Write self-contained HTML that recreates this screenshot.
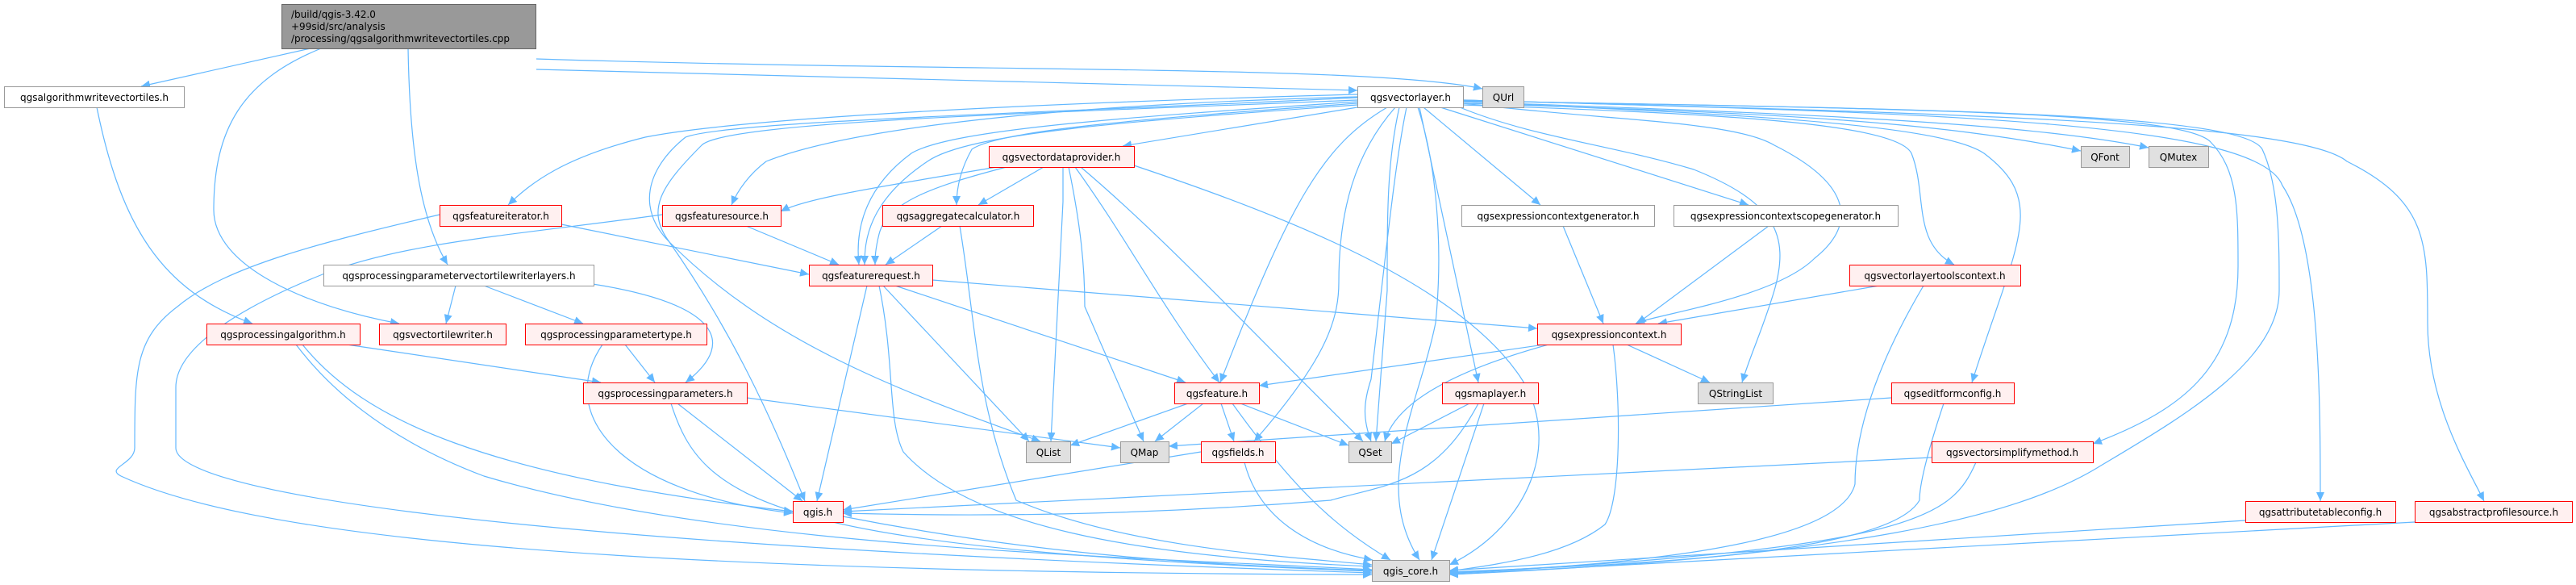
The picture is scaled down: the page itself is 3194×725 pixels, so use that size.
<!DOCTYPE html>
<html><head><meta charset="utf-8"><style>
html,body{margin:0;padding:0;background:#fff;width:3194px;height:725px;overflow:hidden}
svg{display:block}
text{font-family:"DejaVu Sans","Liberation Sans",sans-serif;font-size:12px;fill:#000}
.e{fill:none;stroke:#63b8ff;stroke-width:1.2;marker-end:url(#a)}
.w{fill:#fff;stroke:#999}
.r{fill:#fff0f0;stroke:#f00}
.g{fill:#e0e0e0;stroke:#999}
</style></head><body>
<svg width="3194" height="725" viewBox="0 0 3194 725" xmlns="http://www.w3.org/2000/svg">
<defs><marker id="a" markerUnits="userSpaceOnUse" markerWidth="12" markerHeight="10" refX="11" refY="5" orient="auto"><path d="M0,0 L11,5 L0,10 z" fill="#63b8ff"/></marker></defs>
<g>
<path class="e" d="M385,60 L175,107"/>
<path class="e" d="M398,60 C300,100 265,160 265,260 C265,330 380,380 495,401"/>
<path class="e" d="M506,60 C508,180 520,270 555,328"/>
<path class="e" d="M665,86 L1683,112"/>
<path class="e" d="M665,73 C1200,90 1700,80 1838,110"/>
<path class="e" d="M120,133 C150,280 200,360 313,401"/>
<path class="e" d="M565,354 L553,401"/>
<path class="e" d="M600,354 L723,401"/>
<path class="e" d="M735,352 C880,375 920,420 850,474"/>
<path class="e" d="M430,427 L745,474"/>
<path class="e" d="M375,427 C450,520 600,590 983,634"/>
<path class="e" d="M367,427 C430,510 520,560 600,590 C900,680 1400,690 1701,706"/>
<path class="e" d="M775,427 L812,474"/>
<path class="e" d="M747,427 C690,510 760,610 983,636"/>
<path class="e" d="M840,500 L995,621"/>
<path class="e" d="M832,500 C870,620 950,680 1701,708"/>
<path class="e" d="M926,493 L1389,555"/>
<path class="e" d="M696,278 L1003,340"/>
<path class="e" d="M545,266 C400,300 280,330 220,380 C167,420 167,460 167,555 C167,575 130,580 150,590 C300,660 700,710 1701,712"/>
<path class="e" d="M821,266 C650,290 500,300 400,340 C300,380 218,430 218,480 L218,555 C218,600 500,670 1701,710"/>
<path class="e" d="M925,280 L1040,328"/>
<path class="e" d="M1683,117 C1200,130 900,150 800,170 C700,195 660,225 630,254"/>
<path class="e" d="M1683,120 C1300,130 1050,160 950,200 C930,215 915,235 907,254"/>
<path class="e" d="M1683,124 C1300,140 900,150 870,180 C820,230 800,260 830,300 C900,400 950,500 998,621"/>
<path class="e" d="M1683,121 C1300,140 900,150 850,170 C800,210 790,260 830,300 C950,420 1100,480 1290,547"/>
<path class="e" d="M1683,133 L1392,181"/>
<path class="e" d="M1683,128 C1450,145 1240,160 1205,185 C1188,215 1186,240 1186,254"/>
<path class="e" d="M1683,126 C1400,145 1180,160 1130,190 C1062,240 1062,300 1065,328"/>
<path class="e" d="M1683,130 C1400,150 1200,165 1150,200 C1075,250 1072,300 1072,328"/>
<path class="e" d="M1720,133 C1640,180 1600,250 1513,474"/>
<path class="e" d="M1730,133 C1680,190 1660,260 1660,350 C1660,400 1640,450 1555,547"/>
<path class="e" d="M1735,133 C1720,200 1720,260 1720,360 L1706,547"/>
<path class="e" d="M1744,133 C1730,200 1720,300 1700,470 C1690,500 1690,520 1700,547"/>
<path class="e" d="M1760,133 L1833,474"/>
<path class="e" d="M1758,133 C1780,200 1790,300 1780,400 C1760,500 1700,600 1760,694"/>
<path class="e" d="M1765,133 L1910,254"/>
<path class="e" d="M1786,133 L2168,254"/>
<path class="e" d="M1810,133 C1900,170 2000,180 2100,210 C2200,250 2220,290 2200,360 C2185,410 2170,440 2160,474"/>
<path class="e" d="M1814,128 C2000,150 2150,150 2200,180 C2300,230 2300,280 2250,320 C2200,370 2050,390 2028,401"/>
<path class="e" d="M1814,130 C2100,140 2350,150 2370,190 C2390,240 2370,300 2423,328"/>
<path class="e" d="M1814,126 C2100,140 2400,150 2460,190 C2540,250 2500,300 2445,474"/>
<path class="e" d="M1814,128 C2200,140 2400,150 2580,187"/>
<path class="e" d="M1814,126 C2200,140 2500,150 2664,183"/>
<path class="e" d="M1814,125 C2400,135 2700,140 2740,175 C2775,210 2775,260 2775,330 C2775,460 2700,510 2595,550"/>
<path class="e" d="M1814,125 C2400,135 2780,140 2805,185 C2826,230 2826,300 2826,360 C2826,450 2700,520 2600,580 C2500,640 2300,690 1797,712"/>
<path class="e" d="M1814,124 C2400,140 2800,150 2830,230 C2877,300 2877,500 2877,621"/>
<path class="e" d="M1814,124 C2400,140 2850,150 2910,200 C3010,250 3010,300 3010,400 C3010,500 3060,580 3080,621"/>
<path class="e" d="M1236,207 C1100,230 1000,245 968,262"/>
<path class="e" d="M1294,207 L1213,254"/>
<path class="e" d="M1248,207 C1160,230 1100,250 1090,290 C1085,310 1085,320 1085,328"/>
<path class="e" d="M1318,207 L1318,250 L1303,547"/>
<path class="e" d="M1325,207 C1340,280 1345,330 1345,380 L1418,547"/>
<path class="e" d="M1333,207 C1400,300 1440,380 1512,474"/>
<path class="e" d="M1340,207 C1450,300 1560,420 1690,547"/>
<path class="e" d="M1406,205 C1600,270 1800,350 1880,460 C1940,540 1900,650 1797,700"/>
<path class="e" d="M1168,280 L1098,328"/>
<path class="e" d="M1190,280 C1210,400 1210,500 1260,620 C1400,680 1600,690 1701,700"/>
<path class="e" d="M1110,354 L1470,474"/>
<path class="e" d="M1156,347 L1906,407"/>
<path class="e" d="M1095,354 L1276,547"/>
<path class="e" d="M1075,354 L1013,621"/>
<path class="e" d="M1090,354 C1110,450 1100,520 1120,560 C1200,650 1400,690 1701,702"/>
<path class="e" d="M1938,280 L1988,401"/>
<path class="e" d="M2193,280 L2030,401"/>
<path class="e" d="M2330,354 L2056,401"/>
<path class="e" d="M2385,354 C2340,430 2300,520 2300,600 C2280,680 2000,700 1797,711"/>
<path class="e" d="M1915,427 L1561,478"/>
<path class="e" d="M1920,427 C1800,460 1730,500 1717,547"/>
<path class="e" d="M2017,427 L2120,474"/>
<path class="e" d="M2000,427 C2010,500 2010,620 1990,650 C1940,690 1850,700 1797,708"/>
<path class="e" d="M1473,500 L1327,552"/>
<path class="e" d="M1492,500 L1432,547"/>
<path class="e" d="M1514,500 L1530,547"/>
<path class="e" d="M1538,500 L1672,552"/>
<path class="e" d="M1528,500 C1600,600 1650,650 1724,694"/>
<path class="e" d="M1489,560 L1045,632"/>
<path class="e" d="M1543,573 C1560,640 1620,680 1702,694"/>
<path class="e" d="M1822,500 L1725,550"/>
<path class="e" d="M1840,500 L1775,694"/>
<path class="e" d="M1833,500 C1780,600 1720,600 1650,620 C1400,640 1200,640 1045,636"/>
<path class="e" d="M2345,493 L1449,553"/>
<path class="e" d="M2410,500 C2390,560 2380,600 2380,620 C2340,690 2000,700 1797,709"/>
<path class="e" d="M2395,567 L1045,634"/>
<path class="e" d="M2450,573 C2420,640 2380,680 1797,710"/>
<path class="e" d="M1045,640 C1300,690 1500,700 1701,707"/>
<path class="e" d="M2784,645 L1797,707"/>
<path class="e" d="M2994,647 L1797,712"/>
</g>
<rect x="349.5" y="5.5" width="315" height="55" fill="#999" stroke="#666"/>
<text x="361" y="22">/build/qgis-3.42.0</text>
<text x="361" y="37">+99sid/src/analysis</text>
<text x="361" y="52">/processing/qgsalgorithmwritevectortiles.cpp</text>
<g text-anchor="middle">
<rect class="w" x="5.5" y="107.5" width="223" height="26"/><text x="117" y="125">qgsalgorithmwritevectortiles.h</text>
<rect class="w" x="1683.5" y="107.5" width="131" height="26" stroke="#666"/><text x="1749" y="125">qgsvectorlayer.h</text>
<rect class="g" x="1838.5" y="107.5" width="51" height="26"/><text x="1864" y="125">QUrl</text>
<rect class="r" x="1226.5" y="181.5" width="180" height="26"/><text x="1316" y="199">qgsvectordataprovider.h</text>
<rect class="g" x="2580.5" y="181.5" width="60" height="26"/><text x="2610" y="199">QFont</text>
<rect class="g" x="2664.5" y="181.5" width="74" height="26"/><text x="2701" y="199">QMutex</text>
<rect class="r" x="545.5" y="254.5" width="151" height="26"/><text x="621" y="272">qgsfeatureiterator.h</text>
<rect class="r" x="821.5" y="254.5" width="147" height="26"/><text x="895" y="272">qgsfeaturesource.h</text>
<rect class="r" x="1094.5" y="254.5" width="187" height="26"/><text x="1188" y="272">qgsaggregatecalculator.h</text>
<rect class="w" x="1812.5" y="254.5" width="239" height="26"/><text x="1932" y="272">qgsexpressioncontextgenerator.h</text>
<rect class="w" x="2075.5" y="254.5" width="278" height="26"/><text x="2214" y="272">qgsexpressioncontextscopegenerator.h</text>
<rect class="w" x="401.5" y="328.5" width="335" height="26"/><text x="569" y="346">qgsprocessingparametervectortilewriterlayers.h</text>
<rect class="r" x="1003.5" y="328.5" width="153" height="26"/><text x="1080" y="346">qgsfeaturerequest.h</text>
<rect class="r" x="2293.5" y="328.5" width="212" height="26"/><text x="2399" y="346">qgsvectorlayertoolscontext.h</text>
<rect class="r" x="256.5" y="401.5" width="190" height="26"/><text x="351" y="419">qgsprocessingalgorithm.h</text>
<rect class="r" x="470.5" y="401.5" width="157" height="26"/><text x="549" y="419">qgsvectortilewriter.h</text>
<rect class="r" x="651.5" y="401.5" width="225" height="26"/><text x="764" y="419">qgsprocessingparametertype.h</text>
<rect class="r" x="1906.5" y="401.5" width="178" height="26"/><text x="1995" y="419">qgsexpressioncontext.h</text>
<rect class="r" x="723.5" y="474.5" width="203" height="26"/><text x="825" y="492">qgsprocessingparameters.h</text>
<rect class="r" x="1456.5" y="474.5" width="105" height="26"/><text x="1509" y="492">qgsfeature.h</text>
<rect class="r" x="1788.5" y="474.5" width="119" height="26"/><text x="1848" y="492">qgsmaplayer.h</text>
<rect class="g" x="2105.5" y="474.5" width="93" height="26"/><text x="2152" y="492">QStringList</text>
<rect class="r" x="2345.5" y="474.5" width="152" height="26"/><text x="2421" y="492">qgseditformconfig.h</text>
<rect class="g" x="1272.5" y="547.5" width="55" height="26"/><text x="1300" y="565">QList</text>
<rect class="g" x="1389.5" y="547.5" width="60" height="26"/><text x="1419" y="565">QMap</text>
<rect class="r" x="1489.5" y="547.5" width="92" height="26"/><text x="1535" y="565">qgsfields.h</text>
<rect class="g" x="1672.5" y="547.5" width="53" height="26"/><text x="1699" y="565">QSet</text>
<rect class="r" x="2395.5" y="547.5" width="200" height="26"/><text x="2495" y="565">qgsvectorsimplifymethod.h</text>
<rect class="r" x="983.5" y="621.5" width="62" height="26"/><text x="1014" y="639">qgis.h</text>
<rect class="r" x="2784.5" y="621.5" width="186" height="26"/><text x="2877" y="639">qgsattributetableconfig.h</text>
<rect class="r" x="2994.5" y="621.5" width="195" height="26"/><text x="3092" y="639">qgsabstractprofilesource.h</text>
<rect class="g" x="1701.5" y="694.5" width="96" height="26"/><text x="1749" y="712">qgis_core.h</text>
</g>
</svg>
</body></html>
